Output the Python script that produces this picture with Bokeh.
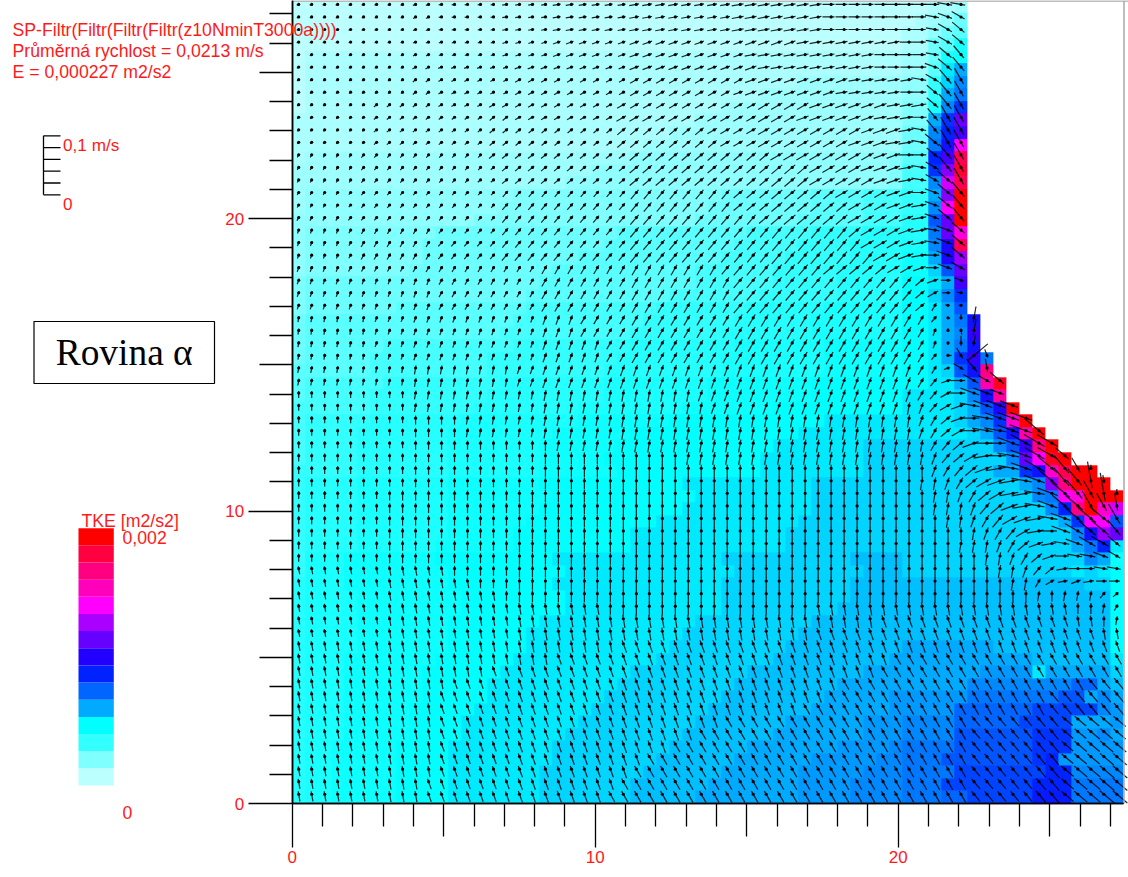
import numpy as np
from bokeh.embed import file_html
from bokeh.models import FixedTicker, Label, LinearAxis, LinearColorMapper, Range1d
from bokeh.plotting import figure
from bokeh.resources import INLINE

# ---- chart texts and scale values ------------------------------------------
TITLE_LINES = ["SP-Filtr(Filtr(Filtr(Filtr(z10NminT3000a))))",
               "Průměrná rychlost = 0,0213 m/s",
               "E = 0,000227 m2/s2"]
PLANE_LABEL = "Rovina α"
COLORBAR_TITLE = "TKE [m2/s2]"
COLORBAR_TICKS = ["0,002", "0"]
SCALE_TICKS = ["0,1 m/s", "0"]
AXIS_LABELED = [0, 10, 20]
AXIS_MIDDLE = [5, 15, 25]
AXIS_MINOR = [1, 2, 3, 4, 6, 7, 8, 9, 11, 12, 13, 14, 16, 17, 18, 19, 21, 22, 23, 24, 26, 27]

# colour bar, lowest to highest class
TKE_COLORS = ["#BBFFFF", "#80FFFF", "#33FFFF", "#00FFFF", "#00AAFF", "#0066FF", "#0022FF", "#2200FF",
              "#6600FF", "#AA00FF", "#FF00FF", "#FF00BB", "#FF0080", "#FF0040", "#FF0000"]

# ---- field, top row first --------------------------------------------------
# number of water cells per row (the rest of the 64 columns is wall)
FLUID_COLS = [52]*25 + [53]*3 + [54, 54, 55, 55, 56, 57, 58, 59, 60, 62, 63] + [64]*25

# run-length rows: first character = value (position in ALPHABET), following digits = repeat count
ALPHABET = "0123456789abcdefghijklmnopqrstuvwxyzABCDEFGHIJKLMNOPQRSTUV"

# TKE in quarter classes of the colour bar
TKE_ROWS = [
 "047 02 12 21", "047 01 11 21 31 51", "047 12 31 51 61", "047 12 51 61 a1",
 "01 146 22 51 a1 b1", "01 146 22 61 d1 g1", "01 138 28 32 81 e1 i1", "01 135 211 32 81 g1 j1",
 "01 132 214 42 a1 i1 n1", "11 130 216 42 g1 n1 w1", "11 128 218 52 i1 o1 u1", "11 126 220 52 j1 q1 E1",
 "11 225 320 41 62 o1 u1 P1", "21 222 323 41 72 n1 y1 R1", "21 220 325 41 72 i1 C1 P1",
 "21 316 416 57 64 73 82 g1 y1 U1", "21 315 416 58 64 73 82 i1 E1 U1", "31 313 417 58 65 73 92 l1 w1 U1",
 "31 410 514 610 75 84 93 92 j1 w1 G1", "31 49 514 610 75 84 94 a2 i1 r1 P1",
 "31 49 512 611 75 85 94 b2 g1 r1 z1", "31 48 511 611 76 85 95 b2 e1 l1 w1",
 "41 57 511 612 76 85 95 c2 d1 g1 u1", "41 57 510 611 77 86 95 c2 e1 i1 n1",
 "41 57 610 710 87 96 a6 c2 d1 g1 l1", "51 66 610 710 87 96 a7 c2 d1 g1 j1 q1",
 "51 66 69 710 87 97 a7 c2 d1 g1 i1 t1", "51 66 710 89 98 a7 b6 c2 d1 g1 j1 q1",
 "51 65 79 810 98 a8 b6 c2 d1 g1 n1 t1 j1", "61 65 79 89 99 a8 b6 c2 d1 e1 l1 q1 M1",
 "61 76 89 98 a8 b8 c7 c2 d2 g1 l1 J1 S1", "61 75 89 99 a8 b8 c7 d4 e1 i1 q1 K1",
 "71 75 88 98 a8 b7 c10 d4 e1 g1 l1 r1 U1", "71 85 97 a9 b7 c12 d6 d4 e1 g1 i1 n1 H1 U1",
 "71 84 97 a8 b6 c13 d8 d5 e1 g1 l1 q1 J1 U1", "71 84 97 a7 b6 c12 d7 e3 e7 i1 l1 t1 M1 U1",
 "71 84 97 a7 b5 c12 d8 e3 e8 i1 w1 E1 S1 U1", "81 84 97 a7 b6 c11 d8 e3 e7 g2 n1 q1 H1 P1 U2",
 "81 94 a7 b7 c11 d10 e7 e9 g1 i1 y1 M1 U3", "81 94 a7 b8 c11 d9 e7 e10 i1 j1 E1 G1 U3",
 "81 94 a7 b7 c11 d10 e7 e11 i1 o1 M1 U1 H1 C1", "81 94 a7 b6 c10 d11 e8 e12 g1 n1 E2 l1",
 "81 94 a7 b5 c9 d12 e9 e13 i1 q1 z1 w1", "81 94 a6 b6 c9 d12 e9 e13 g1 j1 o1 d1",
 "81 a3 b7 c9 d13 e10 f4 e14 i1 g1 b1", "81 a3 b8 c9 d13 e10 f3 e13 d1 e1 d1 c1",
 "91 a3 b8 c8 d13 e10 f4 f14 e2 c1", "91 a4 b8 c8 d12 e10 f4 f16 c1", "91 a4 b8 c8 d12 e9 f5 f16 c1",
 "91 a4 b7 c7 d12 e9 f7 f16 c1", "91 a4 b7 c6 d12 e9 f8 f16 c1", "91 a4 b7 c6 d11 e9 f9 g7 f9 c1",
 "91 a3 b7 c6 d11 e9 f9 g1 g10 f6 d1", "91 a3 b6 c6 d10 e9 f9 g3 g6 h4 d1 g5 e1",
 "91 a3 b6 c5 d10 e9 f8 g5 g5 i8 k2 g1 f1", "91 a3 b6 c5 d9 e9 f8 g5 h1 h5 j7 l2 g1 i1 g1",
 "91 a3 b5 c5 d9 e9 f8 g6 h1 h4 k6 m5 i1 h1", "91 a3 b5 c4 d9 e9 f7 g6 h3 i4 k5 m4 g3 h1",
 "91 a3 b5 c4 d8 e9 f7 g7 h3 i4 l6 n3 h2 i1 g1", "91 a2 b5 c4 d8 e9 f6 g7 h4 i1 j4 l6 n3 h4",
 "91 a2 b5 c4 d8 e8 f6 g6 h5 i2 j3 l7 n1 o1 h5", "91 a2 b5 c4 d7 e8 f6 g6 h5 i3 j4 m7 o2 i4",
 "91 a2 b5 c4 d7 e7 f6 g7 h4 i4 j3 m7 o3 j4", "91 a2 b5 c4 d7 e7 f5 g8 h4 i4 j3 k2 m5 p3 j4",
]

# flow direction in tens of degrees, counter-clockwise from east
DIRECTION_ROWS = [
 "211 130 09 z2", "311 130 08 z1 y1 x1", "211 130 08 z1 x1 w1", "211 228 18 02 z1 x1 w1",
 "311 224 110 04 z1 w1 v1", "311 225 19 04 y1 w1 v1", "411 324 28 15 z1 x1 v1 u1",
 "411 323 28 15 02 w1 v1 u1", "411 329 26 13 w1 v1 u1", "56 411 322 26 13 01 v1 u2",
 "56 426 312 23 11 z1 v1 u2", "56 427 310 23 12 z1 w1 u2", "65 510 422 38 22 02 w1 v1 u1",
 "65 510 425 34 23 11 z1 x1 v1 u1", "65 59 426 35 22 11 z1 x1 w1 u1", "64 530 48 34 22 01 y1 w1 v1",
 "64 530 49 33 22 11 y1 w1 v1", "64 532 47 34 21 11 y1 w1 v1", "74 67 532 41 33 21 11 z1 y1 w1",
 "74 67 533 33 21 11 z1 y1 w1", "74 67 534 32 21 11 01 y1 w1", "74 67 622 58 45 32 21 01 y1 x1",
 "711 623 514 41 21 01 y1", "711 623 514 41 31 01 z1", "711 623 514 41 61 z1 01",
 "86 716 627 51 g1 r1 q1", "86 716 627 71 r1 a1 q1", "86 718 625 71 91 r1 q1",
 "86 718 625 51 i1 u1 m1 t1", "817 731 62 21 x1 v1 s1", "817 731 61 51 21 01 x2 w1",
 "99 822 717 61 51 31 01 y3", "99 823 715 81 71 51 31 21 z1 y3", "913 835 71 61 41 21 01 z1 y3",
 "913 835 71 61 41 31 01 z1 z1 y1 y1 w1", "920 828 81 61 51 41 21 02 y1 x3",
 "930 818 81 71 51 41 31 11 01 z1 y1 x2 w1", "949 71 61 51 41 21 11 z1 y1 x1 w1 v1 u1 r1",
 "948 82 71 61 41 31 21 11 z1 y1 w1 v2 s2", "949 81 81 71 61 41 31 12 z1 y1 w1 v1 u1 s1 r1",
 "949 83 71 51 41 21 11 z1 y1 w2 u2 s1", "950 82 71 61 51 31 21 11 z1 y1 w3 u1",
 "952 81 71 61 51 31 11 01 y1 x1 w2 v1", "951 83 71 61 41 21 11 z1 y1 x2 w1",
 "953 82 71 61 41 21 01 z2 y1 x1", "a12 942 82 71 51 41 11 02 z2", "a14 941 82 61 31 11 21 11 02",
 "a16 941 81 91 83 51 41", "a24 916 a20 92 81 61", "a45 b15 a2 91 81", "a40 b22 a2", "a25 b39",
 "a20 b26 c18", "a15 b30 c19", "a12 b30 c19 d3", "a11 b30 c17 d6", "a11 b28 c19 d6",
 "a11 b22 c19 d7 e5", "a11 b20 c21 d7 e5", "a11 b18 c23 d7 e5", "a11 b16 c25 d7 e5",
 "a11 b15 c26 d7 e5", "a10 b15 c27 d7 e5", "a10 b14 c28 d7 e5",
]

# flow speed in units of 1/470 m/s
SPEED_ROWS = [
 "39 47 64 86 a8 c12 f6", "39 47 64 86 a8 c12 e4 f2", "39 47 64 86 a8 c12 d4 g2", "39 47 64 86 a9 c12 d3 g2",
 "39 47 64 86 a9 c11 d4 g2", "39 58 79 a9 c13 f2 i2", "39 58 79 a9 c13 f2 i2", "39 58 79 a9 c13 f2 i2",
 "36 59 710 a11 d12 f2 j2", "36 59 710 b11 d12 g2 j2", "36 59 710 b11 d9 f4 i1 k2", "36 59 710 b11 d9 f4 i1 k2",
 "45 510 811 c11 e10 f3 j2", "45 511 810 c11 e10 f3 j2", "45 511 810 c11 e10 f3 j2", "45 511 810 c11 e10 f3 j2",
 "45 511 910 c11 e10 f3 i2", "55 511 910 d11 f10 f3 i2", "55 611 910 d11 f10 g3 h2", "55 711 910 d11 f11 f2 h2",
 "55 711 a10 d11 g11 f2 h2", "69 710 a7 c8 e14 d2 f1 g1", "69 710 a7 c8 e14 c2 a2", "69 710 a7 c8 e14 c2 81 61",
 "69 710 a7 c8 e14 c1 91 41 31", "69 710 a7 c8 e14 b1 81 31 51 g1", "69 710 a7 c8 e14 b1 81 31 61 g1",
 "69 710 a7 c8 e14 b1 81 31 a1 c1", "69 710 a7 c8 e14 b1 81 51 c1 p1 91", "79 910 a6 c9 d14 b1 91 61 c1 g1 d1",
 "79 910 b6 c9 d14 b1 a2 f1 h1 e1 i1", "79 910 b6 c9 d14 c1 b1 c1 f1 k2 f1", "79 910 b6 c9 d14 c2 d1 f1 k3 j1",
 "79 910 b6 d23 c2 d1 f1 j1 l1 m1 n1 o1", "79 910 b6 d23 c2 d1 f1 j1 l1 m1 n1 o2",
 "79 910 b6 d23 c2 d1 f1 h1 k1 l1 n1 o3", "89 910 c6 d23 d3 e1 g1 j1 l1 m1 n3 h1",
 "89 910 c6 d26 e1 g1 i1 k1 l1 m1 n1 o1 n1 h1 51", "89 910 c6 d27 f1 h1 j1 k1 l1 m1 n1 o1 m1 r1 81",
 "87 a10 c8 d27 e1 g1 i1 j1 k1 l1 m1 n1 o1 l1 t1 61", "87 a10 c8 d27 e1 f1 h1 i1 j1 k1 l1 n2 o1 k1 i1",
 "87 a10 c8 d28 e1 g1 h1 i1 j1 k1 l1 m1 n1 p1 n1", "87 a10 c8 d29 e1 f1 g1 h1 i1 k1 l1 m1 n1 k1",
 "87 a10 c8 d30 e1 f3 g1 i1 j1 k1 g1", "87 a10 c8 d31 e4 f1 g2 e1", "87 a10 c8 d32 c3 d2 e2", "87 a10 c8 d32 a4 b3",
 "87 a10 c8 d32 b3 a2 81 71", "87 a10 c8 d32 c3 b2 a1 71", "87 a10 c8 d32 c3 b3 91", "87 a10 d8 d32 c3 c3 b1",
 "a7 b10 c8 d32 d3 c3 c1", "a7 b10 c8 d32 d3 d3 d1", "a7 b10 c8 d32 d7", "a7 b10 c8 d32 d3 e3 f1",
 "a7 b10 c8 d32 e3 f3 g1", "a7 b10 c8 d32 e3 f3 g1", "a7 b10 c8 d32 e3 f2 g2", "a7 b10 c8 d32 e2 f2 g3",
 "a7 b10 c8 d32 e1 f2 g2 h2", "a7 b10 c8 d32 e1 f2 g2 i2", "a7 b10 c8 d32 f1 g2 h2 j2", "a7 b10 c8 d32 f1 g2 h2 j2",
 "a7 b10 c8 d32 f1 g2 h2 j2",
]

# ---- geometry: reference pixels <-> axis units -------------------------------
W, H = 1128, 877
X0, Y0 = 291.7, 803.0      # pixel of axis origin
PX_X, PX_Y = 30.3, 29.25   # pixels per axis unit
CELL = 0.4286              # grid step, axis units
NC = 64


def X(px):
    return (px - X0) / PX_X


def Y(py):
    return (Y0 - py) / PX_Y


def decode(rows):
    out = np.full((NC, NC), np.nan)
    for r, row in enumerate(rows):
        cells = []
        for tok in row.split():
            cells += [ALPHABET.index(tok[0])] * int(tok[1:])
        n = FLUID_COLS[r]
        cells = (cells + [cells[-1]] * n)[:n]
        out[r, :n] = cells
    return out


tke = decode(TKE_ROWS)
direction = decode(DIRECTION_ROWS) * 10.0
speed = decode(SPEED_ROWS) / 470.0  # m/s

# continuous colour scale through the colour-bar classes, in quarter classes
rgb = np.array([[int(c[i:i + 2], 16) for i in (1, 3, 5)] for c in TKE_COLORS], float)
fine = np.minimum(np.arange(len(ALPHABET)) / 4.0, 14)
scale_colors = ["#%02X%02X%02X" % tuple(int(round(np.interp(t, np.arange(15), rgb[:, k]))) for k in range(3))
                for t in fine]

p = figure(width=W, height=H, output_backend="svg", toolbar_location=None, tools="",
           x_range=Range1d(X(0), X(W)), y_range=Range1d(Y(H), Y(0)),
           x_axis_type=None, y_axis_type=None, min_border=0, outline_line_color=None,
           background_fill_color="white", border_fill_color="white")
p.grid.visible = False

# heat field
mapper = LinearColorMapper(palette=scale_colors, low=-0.5, high=len(ALPHABET) - 0.5,
                           nan_color="rgba(0,0,0,0)")
p.image(image=[tke[::-1]], x=0, y=0, dw=NC * CELL, dh=NC * CELL, color_mapper=mapper)

# velocity arrows: dot on the grid point, most of the shaft behind it
rows, cols = np.nonzero(~np.isnan(speed))
hx = (cols + 0.5) * CELL
hy = (NC - 0.5 - rows) * CELL + 3.0 / PX_Y
th = np.radians(direction[rows, cols])
ux = speed[rows, cols] * np.cos(th) * 470.0 / PX_X
uy = speed[rows, cols] * np.sin(th) * 470.0 / PX_Y
p.segment(hx - 0.72 * ux, hy - 0.72 * uy, hx + 0.28 * ux, hy + 0.28 * uy,
          line_color="black", line_width=1.2, line_alpha=0.85)
p.scatter(hx, hy, size=3.2, color="black", line_width=0)

# grey picture frame
p.segment([X(X0), X(1123.5)], [Y(0.5), Y(0.5)], [X(1128), X(1123.5)], [Y(0.5), Y(803)],
          line_color="#a8a8a8", line_width=1.5)

# axes, all crossing at the origin
RED = "#ff1a1a"


def make_axis(major, tick_len, minor=None, labels=True, standoff=2):
    ticker = FixedTicker(ticks=major, minor_ticks=minor or [])
    ax = LinearAxis(ticker=ticker, fixed_location=0)
    ax.major_tick_in = 0
    ax.minor_tick_in = 0
    ax.major_tick_out = tick_len
    ax.minor_tick_out = 23
    ax.major_tick_line_color = "black"
    ax.minor_tick_line_color = "black"
    ax.major_tick_line_width = 1.3
    ax.minor_tick_line_width = 1.3
    ax.axis_line_color = "black"
    ax.axis_line_width = 1.5
    ax.major_label_standoff = standoff
    ax.major_label_text_color = RED if labels else None
    ax.major_label_text_font = "Liberation Sans"
    ax.major_label_text_font_size = "17px"
    if not labels:
        ax.major_label_overrides = {m: "" for m in major}
    return ax


for side, bounds in (("left", (0, Y(0))), ("below", (0, X(1123)))):
    ax = make_axis(AXIS_LABELED, 44, AXIS_MINOR, True, 4 if side == "left" else 3)
    ax.bounds = bounds
    p.add_layout(ax, side)
    ax2 = make_axis(AXIS_MIDDLE, 33, None, False)
    ax2.bounds = bounds
    p.add_layout(ax2, side)

# colour bar
bar_top, bar_bottom = 527.7, 785.0
step = (bar_bottom - bar_top) / len(TKE_COLORS)
lo = [Y(bar_bottom - i * step) for i in range(len(TKE_COLORS))]
hi = [Y(bar_bottom - (i + 1) * step) for i in range(len(TKE_COLORS))]
p.quad(left=X(78), right=X(113.3), bottom=lo, top=hi, fill_color=TKE_COLORS, line_color=None)

# velocity scale
scale_y = [135.3, 147.1, 158.9, 170.7, 182.5, 194.3]
p.segment(X(43), Y(135.3), X(43), Y(194.3), line_color="black", line_width=1.3)
p.segment([X(43)] * 6, [Y(v) for v in scale_y], [X(60)] * 6, [Y(v) for v in scale_y],
          line_color="black", line_width=1.3)

# plane label box
p.quad(left=X(33.5), right=X(214), bottom=Y(383), top=Y(321), fill_color="white",
       line_color="black", line_width=1.2)


def text(px, py, s, size=17.7, color=RED, font="Liberation Sans", align="left"):
    p.add_layout(Label(x=X(px), y=Y(py), text=s, text_color=color, text_font=font,
                       text_font_size=f"{size}px", text_align=align, text_baseline="middle"))


text(12, 29.5, TITLE_LINES[0])
text(12, 50.5, TITLE_LINES[1])
text(12, 71.5, TITLE_LINES[2])
text(62.5, 144.5, SCALE_TICKS[0], size=17.2)
text(62.5, 203, SCALE_TICKS[1], size=17.2)
text(81, 520.5, COLORBAR_TITLE)
text(122, 536.5, COLORBAR_TICKS[0])
text(122, 811.5, COLORBAR_TICKS[1])
text(123.7, 352, PLANE_LABEL, size=37.4, color="black", font="Liberation Serif", align="center")

open("out.html", "w").write(file_html(p, INLINE))
